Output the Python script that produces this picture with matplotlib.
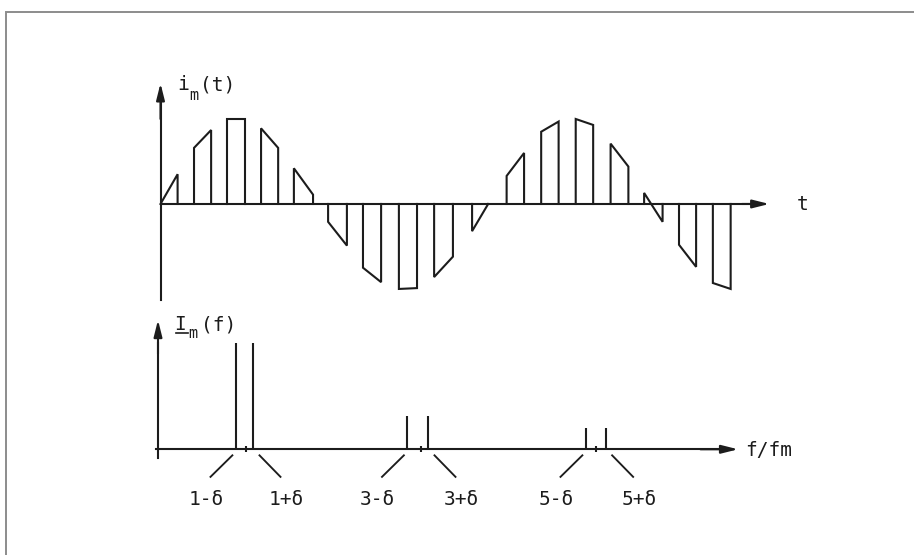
import matplotlib
matplotlib.use('Agg')
import matplotlib.pyplot as plt
import matplotlib.patches as patches

# Pulse train i_m(t): start/end of each pulse (time in pulse periods)
# and the sine value at the pulse edges
pulse_start = [0.00, 0.98, 1.94, 2.94, 3.90, 4.90, 5.92, 6.97, 8.00,
               9.11, 10.12, 11.13, 12.14, 13.16, 14.14, 15.16, 16.15]
pulse_end = [0.50, 1.48, 2.47, 3.44, 4.46, 5.45, 6.45, 7.50, 8.55,
             9.58, 10.63, 11.64, 12.65, 13.68, 14.68, 15.66, 16.67]
val_start = [0.00, 0.66, 1.00, 0.89, 0.42, -0.21, -0.75, -1.00, -0.86,
             -0.32, 0.33, 0.85, 1.00, 0.71, 0.13, -0.48, -0.93]
val_end = [0.35, 0.87, 1.00, 0.66, 0.11, -0.49, -0.92, -0.99, -0.62,
           0.00, 0.60, 0.97, 0.93, 0.44, -0.21, -0.74, -1.00]

# Spectrum I_m(f)
spike_f = [0.89, 1.09, 2.85, 3.09, 4.89, 5.12]
spike_amp = [1.00, 1.00, 0.31, 0.31, 0.20, 0.20]
spike_labels = ['1-δ', '1+δ', '3-δ', '3+δ', '5-δ', '5+δ']
harmonics = [1, 3, 5]

INK = '#1c1c1c'
LW = 1.5
FONT = 'DejaVu Sans Mono'
FS = 14

W, H = 914, 555
fig = plt.figure(figsize=(W / 100, H / 100), dpi=100)
fig.patch.set_facecolor('white')

# scan border (only top and left edge visible)
fig.add_artist(patches.Rectangle((6 / W, -0.1), 2, 1.1 - 12 / H,
                                 transform=fig.transFigure, fill=False,
                                 edgecolor='#8c8c8c', lw=1.4))


def px_axes(x0, x1, y_top, y_bot):
    # axes rectangle from pixel coords (y counted from top)
    return fig.add_axes([x0 / W, (H - y_bot) / H, (x1 - x0) / W, (y_bot - y_top) / H])


def line(ax, xs, ys, lw=LW):
    ax.plot(xs, ys, color=INK, lw=lw, clip_on=False, solid_joinstyle='miter')


def arrow(ax, p0, p1):
    ax.annotate('', xy=p1, xytext=p0,
                arrowprops=dict(arrowstyle='-|>,head_length=1.0,head_width=0.25',
                                mutation_scale=10, color=INK, lw=LW,
                                shrinkA=0, shrinkB=0),
                annotation_clip=False)


# ---- top: i_m(t) ----
ax1 = px_axes(160.5, 769.3, 83.3, 300)
ax1.set_xlim(0, 17.8)
ax1.set_ylim(-1.13, 1.42)
ax1.axis('off')

line(ax1, [0, 0], [-1.13, 1.25])
arrow(ax1, (0, 1.0), (0, 1.42))
line(ax1, [0, 17.5], [0, 0])
arrow(ax1, (17.0, 0), (17.8, 0))

for t0, t1, y0, y1 in zip(pulse_start, pulse_end, val_start, val_end):
    line(ax1, [t0, t0, t1, t1], [0, y0, y1, 0])

ax1.text(0.48, 1.34, 'i', fontsize=FS, family=FONT, color=INK, va='baseline')
ax1.text(0.84, 1.22, 'm', fontsize=11, family=FONT, color=INK, va='baseline')
ax1.text(1.16, 1.34, '(t)', fontsize=FS, family=FONT, color=INK, va='baseline')
ax1.text(18.61, -0.07, 't', fontsize=FS, family=FONT, color=INK, va='baseline')

# ---- bottom: I_m(f) ----
ax2 = px_axes(149.25, 744.25, 311.5, 512.9)
ax2.set_xlim(-0.1, 6.7)
ax2.set_ylim(-0.6, 1.3)
ax2.axis('off')

line(ax2, [0, 0], [-0.082, 1.0])
arrow(ax2, (0, 0.9), (0, 1.22))
line(ax2, [-0.023, 6.5], [0, 0])
arrow(ax2, (6.2, 0), (6.63, 0))

ax2.vlines(spike_f, 0, spike_amp, color=INK, lw=LW)
ax2.vlines(harmonics, -0.03, 0.03, color=INK, lw=LW)

for f, lab in zip(spike_f, spike_labels):
    if '-' in lab:
        line(ax2, [f - 0.04, f - 0.29], [-0.057, -0.26], lw=LW * 0.9)
        tx = f - 0.34
    else:
        line(ax2, [f + 0.07, f + 0.31], [-0.057, -0.26], lw=LW * 0.9)
        tx = f + 0.38
    ax2.text(tx, -0.53, lab, fontsize=FS, family=FONT, color=INK,
             ha='center', va='baseline')

ax2.text(0.19, 1.125, 'I', fontsize=FS, family=FONT, color=INK, va='baseline')
line(ax2, [0.20, 0.34], [1.095, 1.095], lw=1.2)  # underline of the phasor I
ax2.text(0.345, 1.05, 'm', fontsize=11, family=FONT, color=INK, va='baseline')
ax2.text(0.49, 1.125, '(f)', fontsize=FS, family=FONT, color=INK, va='baseline')
ax2.text(6.71, -0.063, 'f/fm', fontsize=FS, family=FONT, color=INK, va='baseline')

fig.savefig('out.png', dpi=100, facecolor='white')
